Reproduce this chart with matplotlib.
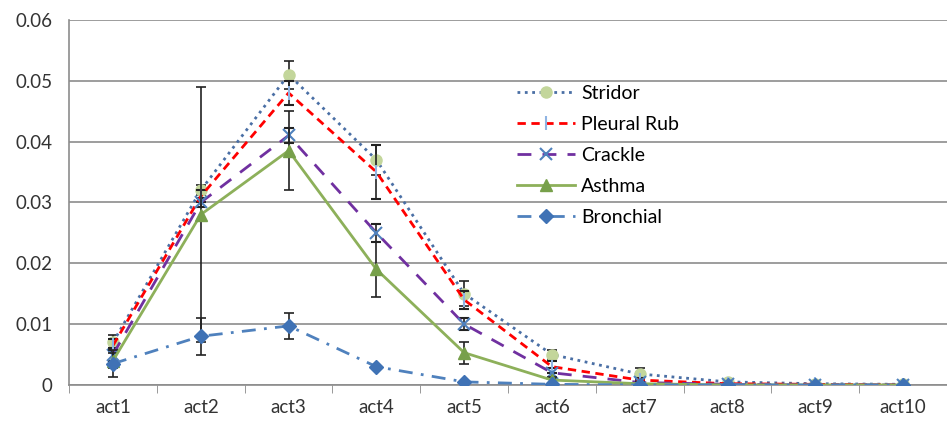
import numpy as np
import matplotlib.pyplot as plt

plt.rcParams['font.family'] = ['Lato', 'DejaVu Sans']

acts = ['act1', 'act2', 'act3', 'act4', 'act5', 'act6', 'act7', 'act8', 'act9', 'act10']
names = ['Stridor', 'Pleural Rub', 'Crackle', 'Asthma', 'Bronchial']

stridor = [0.0070, 0.0320, 0.0510, 0.0370, 0.0150, 0.0050, 0.0018, 0.0005, 0.0002, 0.0001]
stridor_err = [0.0012, 0.0008, 0.0023, 0.0025, 0.0020, 0.0008, 0.0010, 0.0002, 0.0001, 0.0001]
pleural = [0.0065, 0.0310, 0.0480, 0.0350, 0.0140, 0.0030, 0.0008, 0.0002, 0.0001, 0.0000]
pleural_err = [0.0010, 0.0010, 0.0020, 0.0045, 0.0015, 0.0010, 0.0003, 0.0001, 0.0001, 0.0000]
crackle = [0.0050, 0.0300, 0.0410, 0.0250, 0.0100, 0.0020, 0.0004, 0.0001, 0.0000, 0.0000]
crackle_err = [0.0010, 0.0008, 0.0012, 0.0015, 0.0010, 0.0008, 0.0002, 0.0000, 0.0000, 0.0000]
asthma = [0.0040, 0.0280, 0.0385, 0.0190, 0.0053, 0.0008, 0.0002, 0.0000, 0.0000, 0.0000]
asthma_err = [0.0012, 0.0210, 0.0065, 0.0045, 0.0018, 0.0005, 0.0002, 0.0000, 0.0000, 0.0000]
bronchial = [0.0035, 0.0080, 0.0097, 0.0030, 0.0005, 0.0001, 0.0000, 0.0000, 0.0000, 0.0000]
bronchial_err = [0.0022, 0.0030, 0.0022, 0.0003, 0.0002, 0.0000, 0.0000, 0.0000, 0.0000, 0.0000]

fig = plt.figure(figsize=(9.47, 4.23), dpi=100)
ax = fig.add_axes([0.073, 0.09, 0.927, 0.863])
x = np.arange(1, len(acts) + 1)

ekw = dict(ecolor='#222222', elinewidth=1.2, capsize=3.5, capthick=1.2)

handles = []
e = ax.errorbar(x, stridor, yerr=stridor_err, color='#4a6fa5', ls=':', lw=2,
                marker='o', ms=8, mfc='#c3d69b', mec='#c3d69b', zorder=3, **ekw)
handles.append(e.lines[0])
e = ax.errorbar(x, pleural, yerr=pleural_err, color='#ff0000', ls=(0, (3, 2)), lw=2,
                marker='|', ms=10, mec='#8fb4e3', mew=1.5, zorder=4, **ekw)
handles.append(e.lines[0])
e = ax.errorbar(x, crackle, yerr=crackle_err, color='#7030a0', ls=(0, (5, 4)), lw=2,
                marker='x', ms=8, mec='#4f81bd', mew=1.5, zorder=4, **ekw)
handles.append(e.lines[0])
e = ax.errorbar(x, asthma, yerr=asthma_err, color='#8db05a', ls='-', lw=2,
                marker='^', ms=8, mfc='#77a04a', mec='#77a04a', zorder=5, **ekw)
handles.append(e.lines[0])
e = ax.errorbar(x, bronchial, yerr=bronchial_err, color='#4f81bd', ls=(0, (5, 3, 1, 3)), lw=2,
                marker='D', ms=7, mfc='#3f72b5', mec='#3f72b5', zorder=5, **ekw)
handles.append(e.lines[0])

ax.set_xlim(0.5, len(acts) + 0.5)
ax.set_ylim(0, 0.06)
ax.set_yticks(np.arange(0, 0.061, 0.01))
ax.set_yticklabels(['0', '0.01', '0.02', '0.03', '0.04', '0.05', '0.06'])
ax.set_xticks(x)
ax.set_xticklabels(acts)
ax.set_xticks(np.arange(0.5, len(acts) + 1, 1), minor=True)
ax.tick_params(axis='x', which='major', length=0, pad=10, labelsize=13.5, colors='#333333')
ax.tick_params(axis='x', which='minor', length=6, color='#888888', direction='out')
ax.tick_params(axis='y', length=0, pad=12, labelsize=13.5, colors='#333333')

ax.grid(axis='y', color='#8c8c8c', lw=1.2)
ax.set_axisbelow(True)
for s in ['top', 'right']:
    ax.spines[s].set_visible(False)
ax.spines['left'].set_color('#8c8c8c')
ax.spines['bottom'].set_color('#8c8c8c')
ax.spines['left'].set_linewidth(1.2)
ax.spines['bottom'].set_linewidth(1.2)

ax.legend(handles, names, loc='upper left',
          bbox_to_anchor=(0.49, 0.87), frameon=False, fontsize=14,
          handlelength=3.0, labelspacing=0.72, handletextpad=0.3)

fig.savefig('out.png', dpi=100)
